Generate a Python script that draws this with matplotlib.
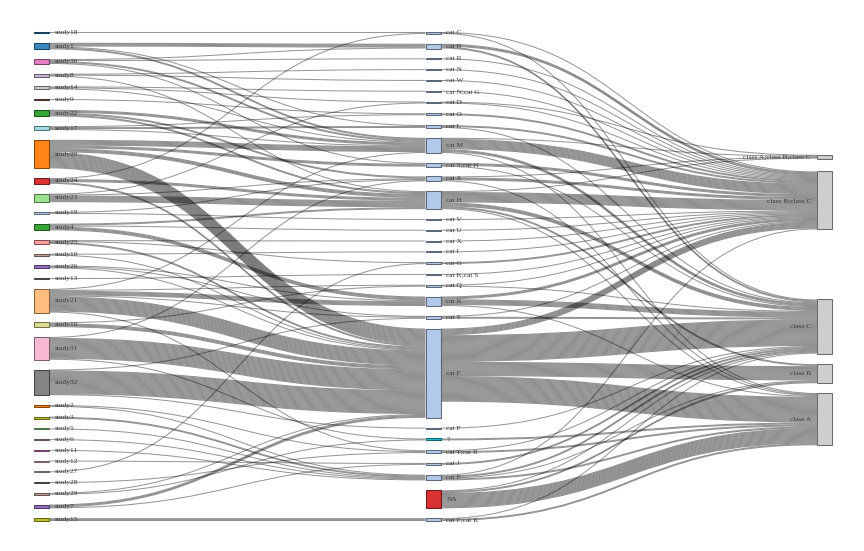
import matplotlib
matplotlib.use('Agg')
import matplotlib.pyplot as plt
from matplotlib.path import Path
from matplotlib.patches import PathPatch, Rectangle
from matplotlib.colors import to_rgb

# ── nodos ──────────────────────────────────────────────────────────────────
studies = ['study18', 'study1', 'study30', 'study8', 'study14', 'study9', 'study22', 'study17',
           'study20', 'study24', 'study23', 'study19', 'study4', 'study25', 'study10', 'study26',
           'study13', 'study21', 'study16', 'study31', 'study32', 'study2', 'study3', 'study5',
           'study6', 'study11', 'study12', 'study27', 'study28', 'study29', 'study7', 'study15']
study_colors = ['#1f77b4', '#3182bd', '#e377c2', '#c5b0d5', '#c7c7c7', '#8c564b', '#2ca02c', '#9edae5',
                '#ff7f0e', '#d62728', '#98df8a', '#aec7e8', '#2ca02c', '#ff9896', '#c49c94', '#9467bd',
                '#7f7f7f', '#ffbb78', '#dbdb8d', '#f7b6d2', '#7f7f7f', '#ff7f0e', '#bcbd22', '#98df8a',
                '#c49c94', '#e377c2', '#f7b6d2', '#c7c7c7', '#7f7f7f', '#c49c94', '#9467bd', '#bcbd22']

cats = ['cat C', 'cat B', 'cat R', 'cat N', 'cat W', 'cat N;cat G', 'cat D', 'cat O', 'cat L', 'cat M',
        'cat S;cat H', 'cat A', 'cat H', 'cat V', 'cat U', 'cat X', 'cat I', 'cat G', 'cat K;cat S',
        'cat Q', 'cat K', 'cat S', 'cat F', 'cat P', '?', 'cat T;cat R', 'cat J', 'cat E', 'NA',
        'cat F;cat K']
cat_special = {'?': '#17becf', 'NA': '#d62728'}

classes = ['class A;class B;class C', 'class B;class C', 'class C', 'class B', 'class A']

# ── enlaces estudio -> categoría ───────────────────────────────────────────
links_study = [
    ('study18', 'cat C', 1),
    ('study1', 'cat B', 4), ('study1', 'cat M', 2), ('study1', 'cat L', 1),
    ('study30', 'cat B', 1), ('study30', 'cat R', 1), ('study30', 'cat M', 2), ('study30', 'cat S;cat H', 1),
    ('study8', 'cat N', 1), ('study8', 'cat W', 1), ('study8', 'cat H', 1),
    ('study14', 'cat N;cat G', 1), ('study14', 'cat D', 1), ('study14', 'cat M', 1),
    ('study9', 'cat O', 1),
    ('study22', 'cat M', 3), ('study22', 'cat A', 2), ('study22', 'cat H', 2),
    ('study17', 'cat L', 2), ('study17', 'cat M', 1), ('study17', 'cat O', 1),
    ('study20', 'cat M', 6), ('study20', 'cat S;cat H', 3), ('study20', 'cat H', 4), ('study20', 'cat F', 17),
    ('study24', 'cat H', 3), ('study24', 'cat F', 2), ('study24', 'cat C', 1),
    ('study23', 'cat H', 7), ('study23', 'cat A', 1), ('study23', 'cat D', 1),
    ('study19', 'cat A', 1), ('study19', 'cat V', 1),
    ('study4', 'cat K', 4), ('study4', 'cat H', 2), ('study4', 'cat U', 1),
    ('study25', 'cat G', 1), ('study25', 'cat F', 2), ('study25', 'cat X', 1),
    ('study10', 'cat I', 1), ('study10', 'cat F', 1),
    ('study26', 'cat K', 1), ('study26', 'cat F', 1), ('study26', 'cat S', 1),
    ('study13', 'cat K;cat S', 1),
    ('study21', 'cat F', 16), ('study21', 'cat K', 5), ('study21', 'cat Q', 1), ('study21', 'cat M', 1),
    ('study21', 'cat T;cat R', 1), ('study21', 'cat S', 1),
    ('study16', 'cat F', 4), ('study16', 'cat Q', 1),
    ('study31', 'cat F', 22), ('study31', '?', 1), ('study31', 'cat A', 1),
    ('study32', 'cat F', 25), ('study32', 'cat S', 1), ('study32', 'cat P', 1),
    ('study2', 'cat E', 1), ('study2', 'cat T;cat R', 1),
    ('study3', 'cat E', 2),
    ('study5', 'cat E', 1),
    ('study6', 'cat E', 1),
    ('study11', 'cat E', 1),
    ('study12', 'cat J', 1),
    ('study27', 'cat G', 1),
    ('study28', 'cat T;cat R', 1),
    ('study29', 'cat F', 1), ('study29', '?', 1),
    ('study7', 'cat F', 3), ('study7', 'cat J', 1),
    ('study15', 'cat F;cat K', 3),
]

# ── enlaces categoría -> clase ─────────────────────────────────────────────
links_class = [
    ('cat C', 'class B;class C', 1), ('cat C', 'class C', 1),
    ('cat B', 'class B;class C', 3), ('cat B', 'class C', 2),
    ('cat R', 'class B;class C', 1),
    ('cat N', 'class B;class C', 1),
    ('cat W', 'class B;class C', 1),
    ('cat N;cat G', 'class B;class C', 1),
    ('cat D', 'class B;class C', 1), ('cat D', 'class A;class B;class C', 1),
    ('cat O', 'class B;class C', 2),
    ('cat L', 'class B;class C', 2), ('cat L', 'class C', 1),
    ('cat M', 'class B;class C', 11), ('cat M', 'class A;class B;class C', 1), ('cat M', 'class C', 3),
    ('cat M', 'class A', 1),
    ('cat S;cat H', 'class B;class C', 3), ('cat S;cat H', 'class C', 1),
    ('cat A', 'class B;class C', 3), ('cat A', 'class A;class B;class C', 1), ('cat A', 'class A', 1),
    ('cat H', 'class B;class C', 11), ('cat H', 'class A;class B;class C', 1), ('cat H', 'class C', 4),
    ('cat H', 'class B', 2), ('cat H', 'class A', 1),
    ('cat V', 'class B;class C', 1),
    ('cat U', 'class B;class C', 1),
    ('cat X', 'class B;class C', 1),
    ('cat I', 'class B;class C', 1),
    ('cat G', 'class B;class C', 2),
    ('cat K;cat S', 'class B;class C', 1),
    ('cat Q', 'class B;class C', 1), ('cat Q', 'class C', 1),
    ('cat K', 'class B;class C', 3), ('cat K', 'class C', 6), ('cat K', 'class A', 1),
    ('cat S', 'class C', 2), ('cat S', 'class B;class C', 1),
    ('cat F', 'class B;class C', 7), ('cat F', 'class C', 28), ('cat F', 'class B', 15), ('cat F', 'class A', 27),
    ('cat P', 'class C', 1),
    ('?', 'class A', 2),
    ('cat T;cat R', 'class A', 2), ('cat T;cat R', 'class C', 1),
    ('cat J', 'class C', 2),
    ('cat E', 'class B;class C', 1), ('cat E', 'class C', 2), ('cat E', 'class B', 1), ('cat E', 'class A', 2),
    ('NA', 'class A', 16), ('NA', 'class B', 2), ('NA', 'class C', 1),
    ('cat F;cat K', 'class A', 2), ('cat F;cat K', 'class C', 1),
]

# ── layout tipo d3-sankey ──────────────────────────────────────────────────
W, H = 864, 551
TOP, BOTTOM = 32, 521
NODE_W = 15
PAD = 9.8
X_LEFT = 34
COL_STEP = (W - 32 - NODE_W - X_LEFT) / 2

links = links_study + links_class
columns = [studies, cats, classes]
inflow, outflow = {}, {}
for s, t, v in links:
    outflow[s] = outflow.get(s, 0) + v
    inflow[t] = inflow.get(t, 0) + v
value = {n: max(inflow.get(n, 0), outflow.get(n, 0)) for col in columns for n in col}

ky = min((BOTTOM - TOP - (len(col) - 1) * PAD) / sum(value[n] for n in col) for col in columns)

x0, y0, y1 = {}, {}, {}
for ci, col in enumerate(columns):
    for n in col:
        x0[n] = X_LEFT + ci * COL_STEP

# columnas izquierda y central: repartidas a toda la altura
for col in columns[:2]:
    gap = (BOTTOM - TOP - sum(value[n] for n in col) * ky) / (len(col) - 1)
    y = TOP
    for n in col:
        y0[n] = y
        y1[n] = y + value[n] * ky
        y = y1[n] + gap

# columna derecha: centro ponderado de los orígenes + resolución de colisiones
def center(n):
    return (y0[n] + y1[n]) / 2

for n in classes:
    src = [(s, v) for s, t, v in links if t == n]
    c = sum(center(s) * v for s, v in src) / sum(v for s, v in src)
    h = value[n] * ky
    y0[n], y1[n] = c - h / 2, c + h / 2
order = sorted(classes, key=lambda n: y0[n])
y = TOP
for n in order:
    d = y - y0[n]
    if d > 0:
        y0[n] += d
        y1[n] += d
    y = y1[n] + PAD
if y - PAD > BOTTOM:
    y = BOTTOM
    for n in reversed(order):
        if y1[n] > y:
            shift = y1[n] - y
            y0[n] -= shift
            y1[n] -= shift
        y = y0[n] - PAD

# posiciones de los enlaces dentro de cada nodo
out_sorted, in_sorted = {}, {}
for i, (s, t, v) in enumerate(links):
    out_sorted.setdefault(s, []).append(i)
    in_sorted.setdefault(t, []).append(i)
sy, ty = {}, {}
for n, idx in out_sorted.items():
    idx.sort(key=lambda i: center(links[i][1]))
    y = y0[n]
    for i in idx:
        sy[i] = y
        y += links[i][2] * ky
for n, idx in in_sorted.items():
    idx.sort(key=lambda i: center(links[i][0]))
    y = y0[n]
    for i in idx:
        ty[i] = y
        y += links[i][2] * ky

# ── dibujo ─────────────────────────────────────────────────────────────────
fig = plt.figure(figsize=(W / 100, H / 100), dpi=100)
ax = fig.add_axes([0, 0, 1, 1])
ax.set_xlim(0, W)
ax.set_ylim(H, 0)
ax.axis('off')

pt = 72 / 100
for i, (s, t, v) in enumerate(links):
    xa = x0[s] + NODE_W
    xb = x0[t]
    xm = (xa + xb) / 2
    for k in range(v):
        ya = sy[i] + (k + 0.5) * ky
        yb = ty[i] + (k + 0.5) * ky
        path = Path([(xa, ya), (xm, ya), (xm, yb), (xb, yb)],
                    [Path.MOVETO, Path.CURVE4, Path.CURVE4, Path.CURVE4])
        ax.add_patch(PathPatch(path, fill=False, edgecolor='black', alpha=0.42,
                               lw=max(1.0, ky) * pt, capstyle='butt'))

def darker(c, k=2):
    r, g, b = to_rgb(c)
    f = 0.7 ** k
    return (r * f, g * f, b * f)

node_color = {}
for n, c in zip(studies, study_colors):
    node_color[n] = c
for n in cats:
    node_color[n] = cat_special.get(n, '#aec7e8')
for n in classes:
    node_color[n] = '#cccccc'

font = dict(family=['Liberation Serif', 'DejaVu Serif'], fontsize=5.3, color='#3a3a3a')
for ci, col in enumerate(columns):
    for n in col:
        h = max(y1[n] - y0[n], 0.8)
        ax.add_patch(Rectangle((x0[n], y0[n]), NODE_W, h, facecolor=node_color[n],
                               edgecolor=darker(node_color[n]), lw=0.75, alpha=0.95))
        yc = y0[n] + h / 2
        if ci < 2:
            ax.text(x0[n] + NODE_W + 6, yc, n, ha='left', va='center', **font)
        else:
            ax.text(x0[n] - 6, yc, n, ha='right', va='center', **font)

fig.savefig('out.png', dpi=100)
